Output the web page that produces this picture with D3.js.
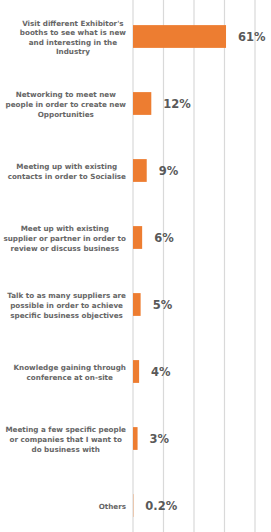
<!DOCTYPE html>
<html>
<head>
<meta charset="utf-8">
<script src="https://cdn.jsdelivr.net/npm/d3@7"></script>
<style>
  body { margin: 0; background: #fff; }
  svg { display: block; }
</style>
</head>
<body>
<script>
// chart data
var categories = [
  "Visit different Exhibitor's\nbooths to see what is new\nand interesting in the\nIndustry",
  "Networking to meet new\npeople in order to create new\nOpportunities",
  "Meeting up with existing\ncontacts in order to Socialise",
  "Meet up with existing\nsupplier or partner in order to\nreview or discuss business",
  "Talk to as many suppliers are\npossible in order to achieve\nspecific business objectives",
  "Knowledge gaining through\nconference at on-site",
  "Meeting a few specific people\nor companies that I want to\ndo business with",
  "Others"
];
var values = [61, 12, 9, 6, 5, 4, 3, 0.2];
var valueLabels = ["61%", "12%", "9%", "6%", "5%", "4%", "3%", "0.2%"];
var gridTicks = [0, 20, 40, 60, 80];

var width = 271,
  height = 532;
var margin = { top: 3, bottom: 0, left: 133, right: 16 };
var labelRight = 126;

var svg = d3.select('body')
  .append('svg')
  .attr('width', width)
  .attr('height', height)
  .style('background', '#ffffff');

var xScale = d3.scaleLinear()
  .domain([0, 80])
  .range([margin.left, 255]);

var yScale = d3.scaleBand()
  .domain(d3.range(categories.length))
  .range([margin.top, 539])
  .paddingInner(0.66)
  .paddingOuter(0.33);

// gridlines
svg.append('g')
  .selectAll('line')
  .data(gridTicks)
  .enter()
  .append('line')
  .attr('x1', function(d) { return xScale(d); })
  .attr('x2', function(d) { return xScale(d); })
  .attr('y1', 0)
  .attr('y2', height)
  .attr('stroke', '#d9d9d9')
  .attr('stroke-width', 1.2);

// bars
svg.append('g')
  .selectAll('rect')
  .data(values)
  .enter()
  .append('rect')
  .attr('x', xScale(0))
  .attr('y', function(d, i) { return yScale(i); })
  .attr('width', function(d) { return xScale(d) - xScale(0); })
  .attr('height', yScale.bandwidth())
  .attr('fill', '#ED7D31');

// value labels
svg.append('g')
  .selectAll('text')
  .data(values)
  .enter()
  .append('text')
  .attr('x', function(d) { return xScale(d) + 12; })
  .attr('y', function(d, i) { return yScale(i) + yScale.bandwidth() / 2; })
  .attr('dy', '0.35em')
  .style('font-family', 'DejaVu Sans, Verdana, sans-serif')
  .style('font-weight', 'bold')
  .style('font-size', '11.5px')
  .style('fill', '#595959')
  .text(function(d, i) { return valueLabels[i]; });

// category labels, centred as a block against the axis
var lineH = 9.6;
categories.forEach(function(c, i) {
  var lines = c.split('\n');
  var cy = yScale(i) + yScale.bandwidth() / 2 + 1;
  var g = svg.append('g');
  var t = g.selectAll('text')
    .data(lines)
    .enter()
    .append('text')
    .attr('y', function(d, j) { return cy + (j - (lines.length - 1) / 2) * lineH; })
    .attr('dy', '0.35em')
    .attr('text-anchor', 'middle')
    .style('font-family', 'DejaVu Sans, Verdana, sans-serif')
    .style('font-weight', 'bold')
    .style('font-size', '7.2px')
    .style('fill', '#666666')
    .text(function(d) { return d; });
  var maxW = 0;
  t.each(function() { maxW = Math.max(maxW, this.getComputedTextLength()); });
  t.attr('x', labelRight - maxW / 2);
});
</script>
</body>
</html>
